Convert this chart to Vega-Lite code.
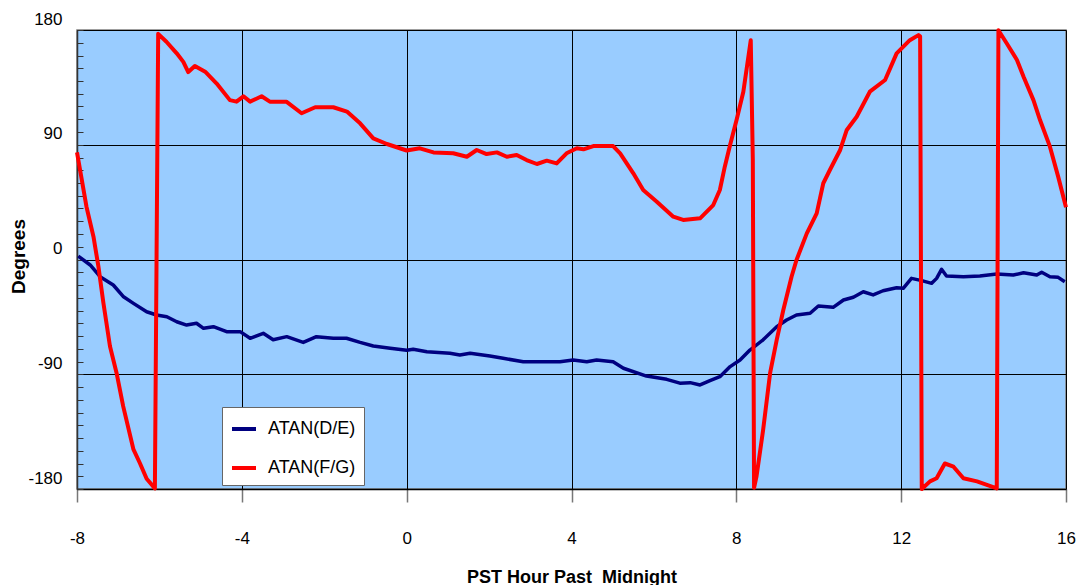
{
  "$schema": "https://vega.github.io/schema/vega-lite/v6.json",
  "width": 989,
  "height": 459,
  "autosize": {"type": "none"},
  "padding": {"left": 77, "top": 30, "right": 17, "bottom": 96},
  "background": "white",
  "config": {
    "font": "Liberation Sans",
    "view": {"fill": "#99CCFF", "stroke": "#808080", "strokeWidth": 1.5}
  },
  "datasets": {
    "pts": [
      {"hour": -7.97, "deg": 2.7, "series": "ATAN(D/E)"},
      {"hour": -7.68, "deg": -4.3, "series": "ATAN(D/E)"},
      {"hour": -7.44, "deg": -13.5, "series": "ATAN(D/E)"},
      {"hour": -7.12, "deg": -20, "series": "ATAN(D/E)"},
      {"hour": -6.88, "deg": -29, "series": "ATAN(D/E)"},
      {"hour": -6.63, "deg": -34.4, "series": "ATAN(D/E)"},
      {"hour": -6.31, "deg": -41, "series": "ATAN(D/E)"},
      {"hour": -6.07, "deg": -43.5, "series": "ATAN(D/E)"},
      {"hour": -5.82, "deg": -44.9, "series": "ATAN(D/E)"},
      {"hour": -5.58, "deg": -48.8, "series": "ATAN(D/E)"},
      {"hour": -5.34, "deg": -51.4, "series": "ATAN(D/E)"},
      {"hour": -5.10, "deg": -50, "series": "ATAN(D/E)"},
      {"hour": -4.93, "deg": -54, "series": "ATAN(D/E)"},
      {"hour": -4.69, "deg": -52.7, "series": "ATAN(D/E)"},
      {"hour": -4.37, "deg": -56.6, "series": "ATAN(D/E)"},
      {"hour": -4.04, "deg": -56.6, "series": "ATAN(D/E)"},
      {"hour": -3.80, "deg": -61.8, "series": "ATAN(D/E)"},
      {"hour": -3.48, "deg": -57.9, "series": "ATAN(D/E)"},
      {"hour": -3.24, "deg": -63, "series": "ATAN(D/E)"},
      {"hour": -2.91, "deg": -60.5, "series": "ATAN(D/E)"},
      {"hour": -2.51, "deg": -65, "series": "ATAN(D/E)"},
      {"hour": -2.19, "deg": -60.5, "series": "ATAN(D/E)"},
      {"hour": -1.78, "deg": -61.8, "series": "ATAN(D/E)"},
      {"hour": -1.46, "deg": -61.8, "series": "ATAN(D/E)"},
      {"hour": -1.13, "deg": -65, "series": "ATAN(D/E)"},
      {"hour": -0.81, "deg": -67.8, "series": "ATAN(D/E)"},
      {"hour": -0.40, "deg": -69.6, "series": "ATAN(D/E)"},
      {"hour": 0.0, "deg": -71.2, "series": "ATAN(D/E)"},
      {"hour": 0.16, "deg": -70.4, "series": "ATAN(D/E)"},
      {"hour": 0.49, "deg": -72.3, "series": "ATAN(D/E)"},
      {"hour": 1.05, "deg": -73.6, "series": "ATAN(D/E)"},
      {"hour": 1.29, "deg": -74.9, "series": "ATAN(D/E)"},
      {"hour": 1.54, "deg": -73.6, "series": "ATAN(D/E)"},
      {"hour": 2.02, "deg": -75.7, "series": "ATAN(D/E)"},
      {"hour": 2.34, "deg": -77.5, "series": "ATAN(D/E)"},
      {"hour": 2.83, "deg": -80.2, "series": "ATAN(D/E)"},
      {"hour": 3.72, "deg": -80.2, "series": "ATAN(D/E)"},
      {"hour": 4.04, "deg": -78.8, "series": "ATAN(D/E)"},
      {"hour": 4.37, "deg": -80.2, "series": "ATAN(D/E)"},
      {"hour": 4.61, "deg": -78.8, "series": "ATAN(D/E)"},
      {"hour": 5.01, "deg": -80.2, "series": "ATAN(D/E)"},
      {"hour": 5.26, "deg": -85.3, "series": "ATAN(D/E)"},
      {"hour": 5.82, "deg": -91.4, "series": "ATAN(D/E)"},
      {"hour": 6.31, "deg": -94, "series": "ATAN(D/E)"},
      {"hour": 6.63, "deg": -97, "series": "ATAN(D/E)"},
      {"hour": 6.88, "deg": -96.6, "series": "ATAN(D/E)"},
      {"hour": 7.12, "deg": -98.4, "series": "ATAN(D/E)"},
      {"hour": 7.36, "deg": -95, "series": "ATAN(D/E)"},
      {"hour": 7.60, "deg": -91.9, "series": "ATAN(D/E)"},
      {"hour": 7.85, "deg": -84, "series": "ATAN(D/E)"},
      {"hour": 8.09, "deg": -78.8, "series": "ATAN(D/E)"},
      {"hour": 8.33, "deg": -71, "series": "ATAN(D/E)"},
      {"hour": 8.65, "deg": -63, "series": "ATAN(D/E)"},
      {"hour": 8.98, "deg": -52.7, "series": "ATAN(D/E)"},
      {"hour": 9.22, "deg": -47.5, "series": "ATAN(D/E)"},
      {"hour": 9.46, "deg": -43.5, "series": "ATAN(D/E)"},
      {"hour": 9.79, "deg": -42.2, "series": "ATAN(D/E)"},
      {"hour": 9.99, "deg": -36.5, "series": "ATAN(D/E)"},
      {"hour": 10.35, "deg": -37.5, "series": "ATAN(D/E)"},
      {"hour": 10.60, "deg": -31.8, "series": "ATAN(D/E)"},
      {"hour": 10.84, "deg": -29.6, "series": "ATAN(D/E)"},
      {"hour": 11.08, "deg": -25.3, "series": "ATAN(D/E)"},
      {"hour": 11.32, "deg": -27.8, "series": "ATAN(D/E)"},
      {"hour": 11.56, "deg": -24.5, "series": "ATAN(D/E)"},
      {"hour": 11.89, "deg": -22.1, "series": "ATAN(D/E)"},
      {"hour": 12.05, "deg": -22.6, "series": "ATAN(D/E)"},
      {"hour": 12.25, "deg": -14.8, "series": "ATAN(D/E)"},
      {"hour": 12.50, "deg": -16.6, "series": "ATAN(D/E)"},
      {"hour": 12.74, "deg": -18.7, "series": "ATAN(D/E)"},
      {"hour": 12.86, "deg": -14.8, "series": "ATAN(D/E)"},
      {"hour": 12.98, "deg": -7.7, "series": "ATAN(D/E)"},
      {"hour": 13.10, "deg": -12.9, "series": "ATAN(D/E)"},
      {"hour": 13.51, "deg": -13.5, "series": "ATAN(D/E)"},
      {"hour": 13.91, "deg": -12.9, "series": "ATAN(D/E)"},
      {"hour": 14.32, "deg": -11.4, "series": "ATAN(D/E)"},
      {"hour": 14.72, "deg": -12.2, "series": "ATAN(D/E)"},
      {"hour": 14.97, "deg": -10.4, "series": "ATAN(D/E)"},
      {"hour": 15.29, "deg": -12.2, "series": "ATAN(D/E)"},
      {"hour": 15.41, "deg": -10, "series": "ATAN(D/E)"},
      {"hour": 15.61, "deg": -13.5, "series": "ATAN(D/E)"},
      {"hour": 15.81, "deg": -14, "series": "ATAN(D/E)"},
      {"hour": 15.97, "deg": -17.4, "series": "ATAN(D/E)"},
      {"hour": -8.0, "deg": 84, "series": "ATAN(F/G)"},
      {"hour": -7.77, "deg": 41.4, "series": "ATAN(F/G)"},
      {"hour": -7.6, "deg": 17.9, "series": "ATAN(F/G)"},
      {"hour": -7.48, "deg": -5.6, "series": "ATAN(F/G)"},
      {"hour": -7.36, "deg": -34, "series": "ATAN(F/G)"},
      {"hour": -7.2, "deg": -68, "series": "ATAN(F/G)"},
      {"hour": -7.04, "deg": -89, "series": "ATAN(F/G)"},
      {"hour": -6.88, "deg": -115, "series": "ATAN(F/G)"},
      {"hour": -6.63, "deg": -149, "series": "ATAN(F/G)"},
      {"hour": -6.47, "deg": -160, "series": "ATAN(F/G)"},
      {"hour": -6.31, "deg": -172, "series": "ATAN(F/G)"},
      {"hour": -6.11, "deg": -179.5, "series": "ATAN(F/G)"},
      {"hour": -6.03, "deg": 177, "series": "ATAN(F/G)"},
      {"hour": -5.83, "deg": 170.8, "series": "ATAN(F/G)"},
      {"hour": -5.58, "deg": 161.7, "series": "ATAN(F/G)"},
      {"hour": -5.42, "deg": 155, "series": "ATAN(F/G)"},
      {"hour": -5.30, "deg": 147, "series": "ATAN(F/G)"},
      {"hour": -5.14, "deg": 151.8, "series": "ATAN(F/G)"},
      {"hour": -4.89, "deg": 147.3, "series": "ATAN(F/G)"},
      {"hour": -4.61, "deg": 138, "series": "ATAN(F/G)"},
      {"hour": -4.29, "deg": 125, "series": "ATAN(F/G)"},
      {"hour": -4.13, "deg": 123.8, "series": "ATAN(F/G)"},
      {"hour": -3.96, "deg": 128, "series": "ATAN(F/G)"},
      {"hour": -3.80, "deg": 123.8, "series": "ATAN(F/G)"},
      {"hour": -3.52, "deg": 128, "series": "ATAN(F/G)"},
      {"hour": -3.32, "deg": 123.8, "series": "ATAN(F/G)"},
      {"hour": -2.92, "deg": 123.8, "series": "ATAN(F/G)"},
      {"hour": -2.55, "deg": 114.7, "series": "ATAN(F/G)"},
      {"hour": -2.22, "deg": 119.4, "series": "ATAN(F/G)"},
      {"hour": -1.78, "deg": 119.4, "series": "ATAN(F/G)"},
      {"hour": -1.45, "deg": 116, "series": "ATAN(F/G)"},
      {"hour": -1.13, "deg": 106.8, "series": "ATAN(F/G)"},
      {"hour": -0.81, "deg": 95, "series": "ATAN(F/G)"},
      {"hour": -0.48, "deg": 90.6, "series": "ATAN(F/G)"},
      {"hour": 0.0, "deg": 85.5, "series": "ATAN(F/G)"},
      {"hour": 0.32, "deg": 87.2, "series": "ATAN(F/G)"},
      {"hour": 0.65, "deg": 84, "series": "ATAN(F/G)"},
      {"hour": 1.13, "deg": 83.3, "series": "ATAN(F/G)"},
      {"hour": 1.46, "deg": 80.6, "series": "ATAN(F/G)"},
      {"hour": 1.70, "deg": 85.9, "series": "ATAN(F/G)"},
      {"hour": 1.94, "deg": 82.7, "series": "ATAN(F/G)"},
      {"hour": 2.19, "deg": 84, "series": "ATAN(F/G)"},
      {"hour": 2.43, "deg": 80.6, "series": "ATAN(F/G)"},
      {"hour": 2.67, "deg": 82, "series": "ATAN(F/G)"},
      {"hour": 2.91, "deg": 78, "series": "ATAN(F/G)"},
      {"hour": 3.16, "deg": 74.9, "series": "ATAN(F/G)"},
      {"hour": 3.40, "deg": 77.5, "series": "ATAN(F/G)"},
      {"hour": 3.64, "deg": 75.4, "series": "ATAN(F/G)"},
      {"hour": 3.88, "deg": 83.3, "series": "ATAN(F/G)"},
      {"hour": 4.13, "deg": 87.2, "series": "ATAN(F/G)"},
      {"hour": 4.29, "deg": 86.4, "series": "ATAN(F/G)"},
      {"hour": 4.53, "deg": 89, "series": "ATAN(F/G)"},
      {"hour": 5.01, "deg": 89, "series": "ATAN(F/G)"},
      {"hour": 5.18, "deg": 83.3, "series": "ATAN(F/G)"},
      {"hour": 5.50, "deg": 67.6, "series": "ATAN(F/G)"},
      {"hour": 5.74, "deg": 54.5, "series": "ATAN(F/G)"},
      {"hour": 6.07, "deg": 45.3, "series": "ATAN(F/G)"},
      {"hour": 6.47, "deg": 33.6, "series": "ATAN(F/G)"},
      {"hour": 6.71, "deg": 31, "series": "ATAN(F/G)"},
      {"hour": 7.12, "deg": 32.3, "series": "ATAN(F/G)"},
      {"hour": 7.44, "deg": 42.7, "series": "ATAN(F/G)"},
      {"hour": 7.60, "deg": 54.5, "series": "ATAN(F/G)"},
      {"hour": 7.72, "deg": 72.8, "series": "ATAN(F/G)"},
      {"hour": 7.85, "deg": 90, "series": "ATAN(F/G)"},
      {"hour": 8.01, "deg": 110, "series": "ATAN(F/G)"},
      {"hour": 8.17, "deg": 131.6, "series": "ATAN(F/G)"},
      {"hour": 8.35, "deg": 172, "series": "ATAN(F/G)"},
      {"hour": 8.40, "deg": 78, "series": "ATAN(F/G)"},
      {"hour": 8.43, "deg": -179, "series": "ATAN(F/G)"},
      {"hour": 8.49, "deg": -170, "series": "ATAN(F/G)"},
      {"hour": 8.65, "deg": -133.7, "series": "ATAN(F/G)"},
      {"hour": 8.82, "deg": -89, "series": "ATAN(F/G)"},
      {"hour": 8.98, "deg": -63, "series": "ATAN(F/G)"},
      {"hour": 9.14, "deg": -39.6, "series": "ATAN(F/G)"},
      {"hour": 9.34, "deg": -13.5, "series": "ATAN(F/G)"},
      {"hour": 9.46, "deg": -0.4, "series": "ATAN(F/G)"},
      {"hour": 9.71, "deg": 20.5, "series": "ATAN(F/G)"},
      {"hour": 9.95, "deg": 36.2, "series": "ATAN(F/G)"},
      {"hour": 10.11, "deg": 59.8, "series": "ATAN(F/G)"},
      {"hour": 10.27, "deg": 70.2, "series": "ATAN(F/G)"},
      {"hour": 10.52, "deg": 85.9, "series": "ATAN(F/G)"},
      {"hour": 10.68, "deg": 101.6, "series": "ATAN(F/G)"},
      {"hour": 10.92, "deg": 112, "series": "ATAN(F/G)"},
      {"hour": 11.24, "deg": 131.6, "series": "ATAN(F/G)"},
      {"hour": 11.61, "deg": 140.8, "series": "ATAN(F/G)"},
      {"hour": 11.89, "deg": 161.7, "series": "ATAN(F/G)"},
      {"hour": 12.21, "deg": 172, "series": "ATAN(F/G)"},
      {"hour": 12.42, "deg": 176, "series": "ATAN(F/G)"},
      {"hour": 12.46, "deg": 175, "series": "ATAN(F/G)"},
      {"hour": 12.50, "deg": -180, "series": "ATAN(F/G)"},
      {"hour": 12.70, "deg": -174, "series": "ATAN(F/G)"},
      {"hour": 12.86, "deg": -171.6, "series": "ATAN(F/G)"},
      {"hour": 13.06, "deg": -160, "series": "ATAN(F/G)"},
      {"hour": 13.27, "deg": -162.5, "series": "ATAN(F/G)"},
      {"hour": 13.51, "deg": -171.6, "series": "ATAN(F/G)"},
      {"hour": 13.84, "deg": -174, "series": "ATAN(F/G)"},
      {"hour": 14.32, "deg": -179.5, "series": "ATAN(F/G)"},
      {"hour": 14.36, "deg": 179.8, "series": "ATAN(F/G)"},
      {"hour": 14.56, "deg": 169.6, "series": "ATAN(F/G)"},
      {"hour": 14.81, "deg": 156.5, "series": "ATAN(F/G)"},
      {"hour": 14.97, "deg": 143.4, "series": "ATAN(F/G)"},
      {"hour": 15.21, "deg": 125, "series": "ATAN(F/G)"},
      {"hour": 15.37, "deg": 109.4, "series": "ATAN(F/G)"},
      {"hour": 15.61, "deg": 88.5, "series": "ATAN(F/G)"},
      {"hour": 15.81, "deg": 65, "series": "ATAN(F/G)"},
      {"hour": 16.0, "deg": 41, "series": "ATAN(F/G)"}
    ]
  },
  "data": {"name": "pts"},
  "encoding": {
    "x": {
      "field": "hour",
      "type": "quantitative",
      "scale": {"domain": [-8, 16], "nice": false, "zero": false},
      "axis": {
        "title": "PST Hour Past \u00a0Midnight",
        "values": [-8, -4, 0, 4, 8, 12, 16],
        "labelExpr": "'' + datum.value",
        "grid": true,
        "gridColor": "#000000",
        "gridOpacity": 1,
        "gridWidth": 1,
        "domainColor": "#000000",
        "domainWidth": 1.5,
        "tickColor": "#777777",
        "tickSize": 13,
        "tickWidth": 1.5,
        "labelFontSize": 17,
        "labelColor": "#000000",
        "labelPadding": 28,
        "labelFlush": false,
        "labelOverlap": false,
        "titleFontSize": 18,
        "titleFontWeight": "bold",
        "titleColor": "#000000",
        "titleY": 88,
        "titleBaseline": "middle"
      }
    },
    "color": {
      "field": "series",
      "type": "nominal",
      "scale": {"domain": ["ATAN(D/E)", "ATAN(F/G)"], "range": ["#000080", "#FF0000"]},
      "legend": {
        "title": null,
        "orient": "none",
        "legendX": 145,
        "legendY": 377,
        "fillColor": "#FFFFFF",
        "strokeColor": "#666666",
        "padding": 8,
        "rowPadding": 16,
        "symbolType": "stroke",
        "symbolSize": 576,
        "symbolStrokeWidth": 4,
        "labelFontSize": 18,
        "labelColor": "#000000",
        "labelOffset": 10,
        "labelExpr": "datum.label + '       '"
      }
    }
  },
  "resolve": {"axis": {"y": "independent"}},
  "layer": [
    {
      "transform": [{"filter": "datum.series === 'ATAN(D/E)'"}],
      "mark": {"type": "line", "strokeWidth": 3.5, "strokeJoin": "round"},
      "encoding": {
        "y": {
          "field": "deg",
          "type": "quantitative",
          "scale": {"domain": [-180, 180], "nice": false},
          "axis": {
            "orient": "left",
            "title": "Degrees",
            "values": [-180, -90, 0, 90, 180],
            "labelExpr": "'' + datum.value",
            "grid": true,
            "gridColor": "#000000",
            "gridWidth": 1,
            "gridOpacity": 1,
            "domainColor": "#333333",
            "domainWidth": 1.5,
            "ticks": false,
            "labelFontSize": 17,
            "labelColor": "#000000",
            "labelPadding": 15,
            "labelOffset": -11,
            "labelOverlap": false,
            "labelFlush": false,
            "titleFontSize": 19,
            "titleFontWeight": "bold",
            "titleColor": "#000000",
            "titleX": -59,
            "titleY": 226,
            "titleAngle": -90,
            "titleAlign": "center",
            "titleBaseline": "middle"
          }
        }
      }
    },
    {
      "transform": [{"filter": "datum.series === 'ATAN(F/G)'"}],
      "mark": {"type": "line", "strokeWidth": 4, "strokeJoin": "round"},
      "encoding": {
        "y": {
          "field": "deg",
          "type": "quantitative",
          "scale": {"domain": [-180, 180], "nice": false},
          "axis": {
            "orient": "left",
            "title": null,
            "values": [-180, -170, -160, -150, -140, -130, -120, -110, -100, -90, -80, -70, -60, -50, -40, -30, -20, -10, 0, 10, 20, 30, 40, 50, 60, 70, 80, 90, 100, 110, 120, 130, 140, 150, 160, 170, 180],
            "offset": -6,
            "tickSize": 6,
            "tickColor": "#333333",
            "tickWidth": 1,
            "labels": false,
            "domain": false,
            "grid": false
          }
        }
      }
    }
  ]
}
